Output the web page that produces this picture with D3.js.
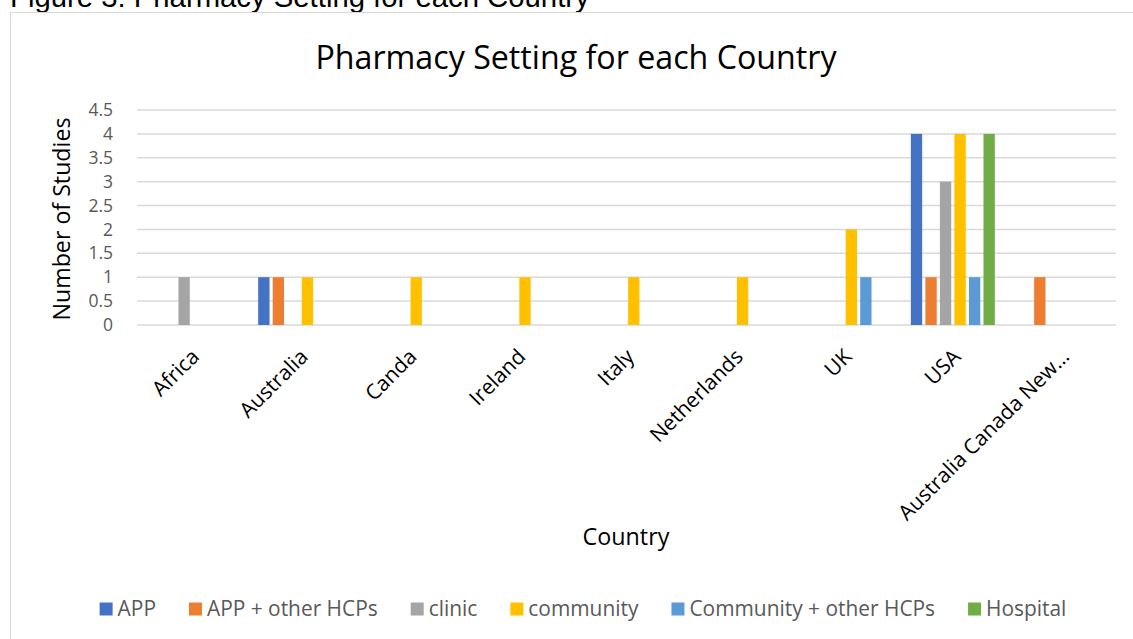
<!DOCTYPE html>
<html>
<head>
<meta charset="utf-8">
<script src="https://cdn.jsdelivr.net/npm/d3@7"></script>
<style>
  html, body { margin: 0; padding: 0; background: #fff; }
  svg { display: block; }
  text { font-family: "Open Sans", Lato, sans-serif; }
</style>
</head>
<body>
<svg id="chart" width="1133" height="639"></svg>
<script>
// Countries on the category axis
const categories = ["Africa", "Australia", "Canda", "Ireland", "Italy", "Netherlands", "UK", "USA", "Australia Canada New…"];

// Pharmacy settings (one bar series each)
const seriesNames = ["APP", "APP + other HCPs", "clinic", "community", "Community + other HCPs", "Hospital"];
const seriesColors = ["#4472C4", "#ED7D31", "#A5A5A5", "#FFC000", "#5B9BD5", "#70AD47"];

// Number of studies per country, one array per setting (0 = no bar)
const appValues         = [0, 1, 0, 0, 0, 0, 0, 4, 0];
const appOtherValues    = [0, 1, 0, 0, 0, 0, 0, 1, 1];
const clinicValues      = [1, 0, 0, 0, 0, 0, 0, 3, 0];
const communityValues   = [0, 1, 1, 1, 1, 1, 2, 4, 0];
const commOtherValues   = [0, 0, 0, 0, 0, 0, 1, 1, 0];
const hospitalValues    = [0, 0, 0, 0, 0, 0, 0, 4, 0];
const seriesValues = [appValues, appOtherValues, clinicValues, communityValues, commOtherValues, hospitalValues];

const yTicks = [0, 0.5, 1, 1.5, 2, 2.5, 3, 3.5, 4, 4.5];

const svg = d3.select("#chart");

// Figure caption above the chart frame
svg.append("text")
  .attr("x", 10).attr("y", 7)
  .style("font-family", "Arial, 'Liberation Sans', sans-serif")
  .style("font-size", "29.3px")
  .attr("fill", "#000")
  .text("Figure 3: Pharmacy Setting for each Country");

// Chart frame
svg.append("rect")
  .attr("x", 10.5).attr("y", 12.5)
  .attr("width", 1200).attr("height", 700)
  .attr("fill", "#fff")
  .attr("stroke", "#d9d9d9").attr("stroke-width", 1);

const plot = { left: 137, right: 1116, top: 110, bottom: 325 };

const x0 = d3.scaleBand().domain(categories).range([plot.left, plot.right]).padding(0);
const groupW = x0.bandwidth() * 0.772;
const x1 = d3.scaleBand().domain(seriesNames)
  .range([(x0.bandwidth() - groupW) / 2, (x0.bandwidth() + groupW) / 2])
  .paddingInner(0.22).paddingOuter(0);
const y = d3.scaleLinear().domain([0, 4.5]).range([plot.bottom, plot.top]);
const color = d3.scaleOrdinal().domain(seriesNames).range(seriesColors);

// Title
svg.append("text")
  .attr("x", 576).attr("y", 69)
  .attr("text-anchor", "middle")
  .style("font-size", "32.2px")
  .attr("fill", "#000")
  .text("Pharmacy Setting for each Country");

// Horizontal gridlines
svg.append("g")
  .selectAll("line")
  .data(yTicks)
  .join("line")
  .attr("x1", plot.left).attr("x2", plot.right)
  .attr("y1", d => y(d)).attr("y2", d => y(d))
  .attr("stroke", "#d9d9d9").attr("stroke-width", 1.5);

// Y axis tick labels
const yAxis = d3.axisLeft(y).tickValues(yTicks).tickSize(0).tickPadding(0).tickFormat(d3.format("~g"));
const yAxisG = svg.append("g").attr("transform", `translate(${plot.left - 24},0)`).call(yAxis);
yAxisG.select(".domain").remove();
yAxisG.selectAll("text")
  .style("font-family", "'Open Sans', sans-serif")
  .style("font-size", "17.5px")
  .attr("fill", "#595959");

// Bars
const groups = svg.append("g")
  .selectAll("g")
  .data(categories)
  .join("g")
  .attr("transform", d => `translate(${x0(d)},0)`);

groups.selectAll("rect")
  .data((c, ci) => seriesNames.map((s, si) => ({ series: s, value: seriesValues[si][ci] })).filter(d => d.value > 0))
  .join("rect")
  .attr("x", d => x1(d.series))
  .attr("width", x1.bandwidth())
  .attr("y", d => y(d.value))
  .attr("height", d => y(0) - y(d.value))
  .attr("fill", d => color(d.series));

// Category labels, rotated 45 degrees
const xAxis = d3.axisBottom(x0).tickSize(0).tickPadding(0);
const xAxisG = svg.append("g").attr("transform", `translate(0,${plot.bottom})`).call(xAxis);
xAxisG.select(".domain").remove();
xAxisG.selectAll(".tick text")
  .attr("text-anchor", "end")
  .attr("dy", null)
  .attr("y", null)
  .attr("transform", "translate(9,33) rotate(-45)")
  .style("font-family", "'Open Sans', sans-serif")
  .style("font-size", "21px")
  .attr("fill", "#000");

// Axis titles
svg.append("text")
  .attr("x", 626).attr("y", 545)
  .attr("text-anchor", "middle")
  .style("font-size", "23.3px")
  .attr("fill", "#000")
  .text("Country");

svg.append("text")
  .attr("transform", "translate(70,219) rotate(-90)")
  .attr("text-anchor", "middle")
  .style("font-size", "23.2px")
  .attr("fill", "#000")
  .text("Number of Studies");

// Legend, laid out from measured label widths and centred under the plot
const legend = svg.append("g");
const items = legend.selectAll("g")
  .data(seriesNames)
  .join("g");
items.append("rect")
  .attr("y", 602.5).attr("width", 13).attr("height", 13)
  .attr("fill", d => color(d));
items.append("text")
  .attr("x", 18).attr("y", 616)
  .style("font-size", "20.9px")
  .attr("fill", "#595959")
  .text(d => d);

const legendGap = 33;
let cursor = 0;
const offsets = [];
items.each(function () {
  offsets.push(cursor);
  const w = d3.select(this).select("text").node().getComputedTextLength();
  cursor += 18 + w + legendGap;
});
const totalW = cursor - legendGap;
const startX = 583 - totalW / 2;
items.attr("transform", (d, i) => `translate(${startX + offsets[i]},0)`);
</script>
</body>
</html>
